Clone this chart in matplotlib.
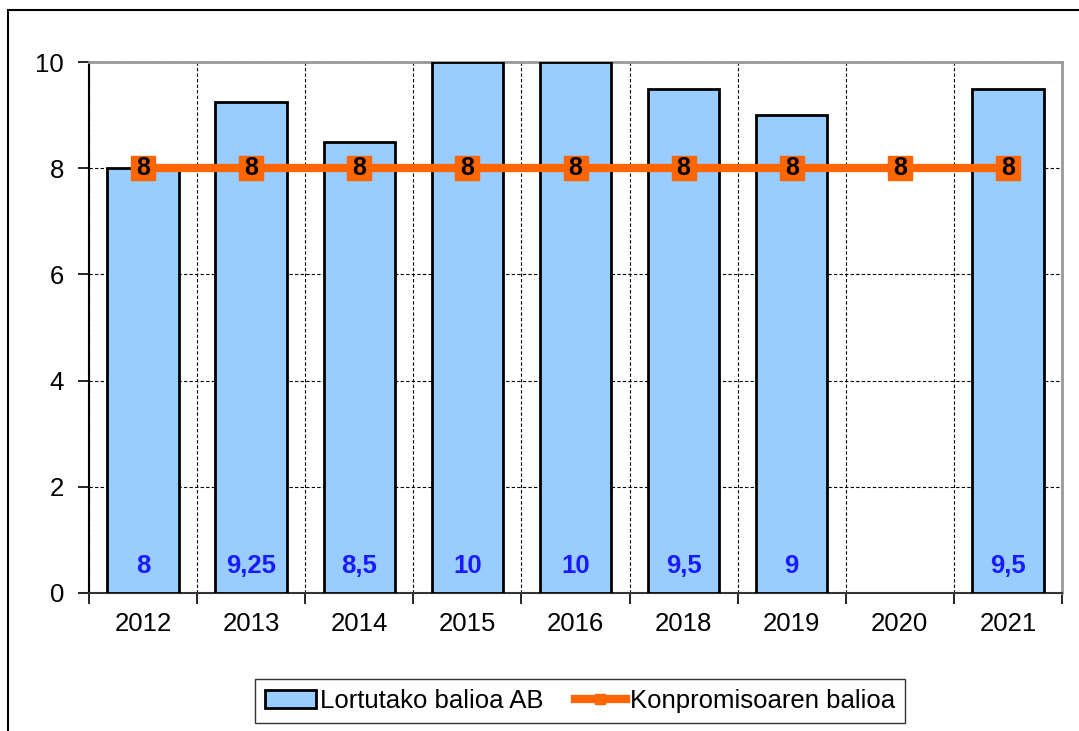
import matplotlib.pyplot as plt
import matplotlib.patches as mpatches
import numpy as np

plt.rcParams['font.family'] = ['Liberation Sans', 'DejaVu Sans']

years = ['2012', '2013', '2014', '2015', '2016', '2018', '2019', '2020', '2021']
achieved = [8, 9.25, 8.5, 10, 10, 9.5, 9, np.nan, 9.5]
achieved_labels = ['8', '9,25', '8,5', '10', '10', '9,5', '9', '', '9,5']
commitment = [8, 8, 8, 8, 8, 8, 8, 8, 8]

fig = plt.figure(figsize=(10.79, 7.31), dpi=100)
ax = fig.add_axes([89/1079, 1-593/731, (1062-89)/1079, (593-62)/731])

# outer chart frame (cut off at right and bottom)
fig.patches.append(mpatches.Rectangle((8/1079, -0.1), 1.2, (731-10)/731 + 0.1,
                                      transform=fig.transFigure, fill=False,
                                      ec='black', lw=1.5, zorder=0))

x = np.arange(len(years))
bars = ax.bar(x, achieved, width=0.66, color='#99CCFF', edgecolor='black',
              linewidth=2, zorder=3, label='Lortutako balioa AB')
line, = ax.plot(x, commitment, color='#FF6600', lw=6, marker='s', markersize=17,
                zorder=4, label='Konpromisoaren balioa')

for xi, lab in zip(x, achieved_labels):
    if lab:
        ax.text(xi, 0.5, lab, ha='center', va='center', color='#1a1aff',
                fontsize=18.5, fontweight='bold', zorder=5)
for xi, v in zip(x, commitment):
    ax.text(xi, v, str(v), ha='center', va='center', color='black',
            fontsize=18, fontweight='bold', zorder=5)

ax.set_xlim(-0.5, len(years) - 0.5)
ax.set_ylim(0, 10)
ax.set_yticks([0, 2, 4, 6, 8, 10])
ax.set_xticks(x)
ax.set_xticklabels(years)
ax.set_xticks(np.arange(-0.5, len(years), 1), minor=True)
ax.tick_params(axis='x', which='major', length=0, pad=14, labelsize=18.5)
ax.tick_params(axis='x', which='minor', length=8, width=1.2, direction='out')
ax.tick_params(axis='y', length=8, width=1.2, direction='out', pad=10, labelsize=18.5)

ax.grid(axis='y', color='black', linestyle=(0, (3, 2)), lw=0.8, zorder=1)
ax.grid(axis='x', which='minor', color='black', linestyle=(0, (3, 2)), lw=0.8, zorder=1)
ax.grid(axis='x', which='major', visible=False)

for s in ['top', 'right']:
    ax.spines[s].set_color('#999999')
    ax.spines[s].set_linewidth(2)
ax.spines['left'].set_linewidth(1.5)
ax.spines['bottom'].set_linewidth(1.5)
ax.spines['bottom'].set_color('#333333')

leg = ax.legend([bars, line], ['Lortutako balioa AB', 'Konpromisoaren balioa'],
                loc='center', bbox_to_anchor=(580/1079, 1-701/731),
                bbox_transform=fig.transFigure, ncol=2, fontsize=18.5,
                frameon=True, fancybox=False, edgecolor='black',
                markerscale=0.45, handlelength=2.0, handletextpad=0.15,
                columnspacing=1.2, borderpad=0.4)
leg.get_frame().set_linewidth(1)

fig.savefig('out.png', dpi=100)
